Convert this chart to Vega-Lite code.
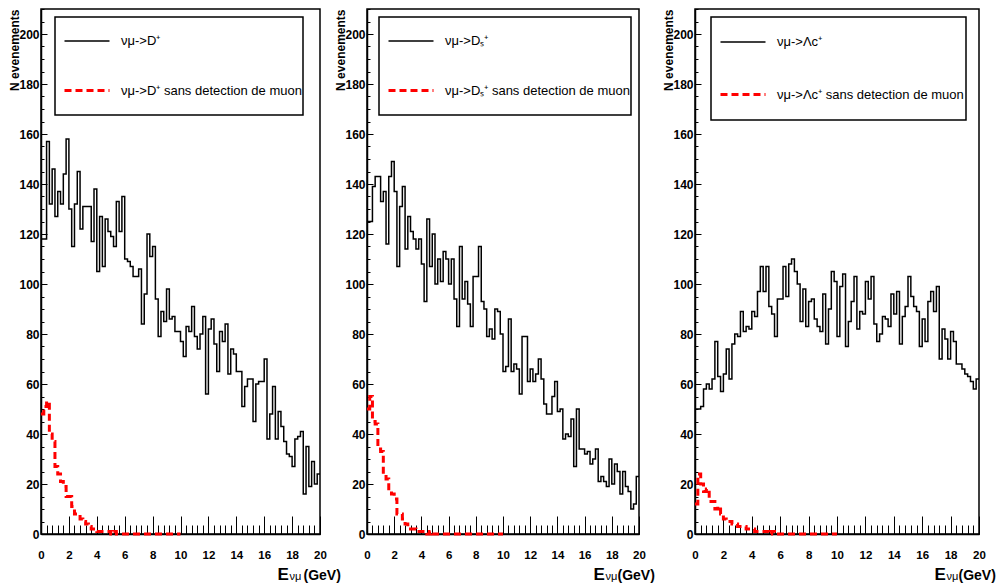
{
"$schema": "https://vega.github.io/schema/vega-lite/v6.json",
"background": "white",
"padding": {"left": 8, "top": 7, "right": 0, "bottom": 2},
"config": {
  "font": "Liberation Sans",
  "view": {"stroke": "#000000", "strokeWidth": 1.5},
  "axis": {"grid": false, "labelColor": "#000000", "titleColor": "#000000", "tickColor": "#000000", "domainColor": "#000000", "labelFont": "Liberation Sans", "titleFont": "Liberation Sans"},
  "legend": {"labelFont": "Liberation Sans", "strokeWidth": 1.5}
},
"datasets": {
"p1": [
{"series":"all","E":0,"N":118},{"series":"all","E":0.2,"N":118},{"series":"all","E":0.4,"N":157},{"series":"all","E":0.6,"N":132},{"series":"all","E":0.8,"N":146},{"series":"all","E":1,"N":127},{"series":"all","E":1.2,"N":137},{"series":"all","E":1.4,"N":132},{"series":"all","E":1.6,"N":144},{"series":"all","E":1.8,"N":158},
{"series":"all","E":2,"N":130},{"series":"all","E":2.2,"N":115},{"series":"all","E":2.4,"N":132},{"series":"all","E":2.6,"N":145},{"series":"all","E":2.8,"N":122},{"series":"all","E":3,"N":131},{"series":"all","E":3.2,"N":131},{"series":"all","E":3.4,"N":131},{"series":"all","E":3.6,"N":117},{"series":"all","E":3.8,"N":138},
{"series":"all","E":4,"N":105},{"series":"all","E":4.2,"N":127},{"series":"all","E":4.4,"N":107},{"series":"all","E":4.6,"N":126},{"series":"all","E":4.8,"N":121},{"series":"all","E":5,"N":119},{"series":"all","E":5.2,"N":115},{"series":"all","E":5.4,"N":133},{"series":"all","E":5.6,"N":121},{"series":"all","E":5.8,"N":135},
{"series":"all","E":6,"N":110},{"series":"all","E":6.2,"N":109},{"series":"all","E":6.4,"N":107},{"series":"all","E":6.6,"N":103},{"series":"all","E":6.8,"N":103},{"series":"all","E":7,"N":106},{"series":"all","E":7.2,"N":84},{"series":"all","E":7.4,"N":96},{"series":"all","E":7.6,"N":120},{"series":"all","E":7.8,"N":111},
{"series":"all","E":8,"N":115},{"series":"all","E":8.2,"N":94},{"series":"all","E":8.4,"N":79},{"series":"all","E":8.6,"N":89},{"series":"all","E":8.8,"N":85},{"series":"all","E":9,"N":98},{"series":"all","E":9.2,"N":86},{"series":"all","E":9.4,"N":87},{"series":"all","E":9.6,"N":81},{"series":"all","E":9.8,"N":81},
{"series":"all","E":10,"N":77},{"series":"all","E":10.2,"N":71},{"series":"all","E":10.4,"N":83},{"series":"all","E":10.6,"N":81},{"series":"all","E":10.8,"N":91},{"series":"all","E":11,"N":79},{"series":"all","E":11.2,"N":74},{"series":"all","E":11.4,"N":80},{"series":"all","E":11.6,"N":87},{"series":"all","E":11.8,"N":56},
{"series":"all","E":12,"N":82},{"series":"all","E":12.2,"N":86},{"series":"all","E":12.4,"N":76},{"series":"all","E":12.6,"N":65},{"series":"all","E":12.8,"N":81},{"series":"all","E":13,"N":77},{"series":"all","E":13.2,"N":84},{"series":"all","E":13.4,"N":64},{"series":"all","E":13.6,"N":74},{"series":"all","E":13.8,"N":72},
{"series":"all","E":14,"N":65},{"series":"all","E":14.2,"N":65},{"series":"all","E":14.4,"N":51},{"series":"all","E":14.6,"N":59},{"series":"all","E":14.8,"N":62},{"series":"all","E":15,"N":62},{"series":"all","E":15.2,"N":45},{"series":"all","E":15.4,"N":60},{"series":"all","E":15.6,"N":61},{"series":"all","E":15.8,"N":61},
{"series":"all","E":16,"N":70},{"series":"all","E":16.2,"N":38},{"series":"all","E":16.4,"N":48},{"series":"all","E":16.6,"N":59},{"series":"all","E":16.8,"N":38},{"series":"all","E":17,"N":49},{"series":"all","E":17.2,"N":43},{"series":"all","E":17.4,"N":37},{"series":"all","E":17.6,"N":32},{"series":"all","E":17.8,"N":31},
{"series":"all","E":18,"N":27},{"series":"all","E":18.2,"N":38},{"series":"all","E":18.4,"N":39},{"series":"all","E":18.6,"N":41},{"series":"all","E":18.8,"N":16},{"series":"all","E":19,"N":35},{"series":"all","E":19.2,"N":19},{"series":"all","E":19.4,"N":29},{"series":"all","E":19.6,"N":20},{"series":"all","E":19.8,"N":24},{"series":"all","E":20,"N":24},
{"series":"nomu","E":0,"N":48},{"series":"nomu","E":0.2,"N":51},{"series":"nomu","E":0.4,"N":53},{"series":"nomu","E":0.6,"N":40},{"series":"nomu","E":0.8,"N":37},{"series":"nomu","E":1,"N":27},{"series":"nomu","E":1.2,"N":24},{"series":"nomu","E":1.4,"N":21},{"series":"nomu","E":1.6,"N":19},{"series":"nomu","E":1.8,"N":15},
{"series":"nomu","E":2,"N":15},{"series":"nomu","E":2.2,"N":11},{"series":"nomu","E":2.4,"N":8},{"series":"nomu","E":2.6,"N":8},{"series":"nomu","E":2.8,"N":6},{"series":"nomu","E":3,"N":5},{"series":"nomu","E":3.2,"N":4},{"series":"nomu","E":3.4,"N":3},{"series":"nomu","E":3.6,"N":2},{"series":"nomu","E":3.8,"N":2},
{"series":"nomu","E":4,"N":1},{"series":"nomu","E":4.2,"N":1},{"series":"nomu","E":4.4,"N":1},{"series":"nomu","E":4.6,"N":1},{"series":"nomu","E":4.8,"N":1},{"series":"nomu","E":5,"N":0},{"series":"nomu","E":5.2,"N":1},{"series":"nomu","E":5.4,"N":0},{"series":"nomu","E":5.6,"N":0},{"series":"nomu","E":5.8,"N":0},
{"series":"nomu","E":6,"N":0},{"series":"nomu","E":6.2,"N":0},{"series":"nomu","E":6.4,"N":0},{"series":"nomu","E":6.6,"N":0},{"series":"nomu","E":6.8,"N":0},{"series":"nomu","E":7,"N":0},{"series":"nomu","E":7.2,"N":0},{"series":"nomu","E":7.4,"N":0},{"series":"nomu","E":7.6,"N":0},{"series":"nomu","E":7.8,"N":0},
{"series":"nomu","E":8,"N":0},{"series":"nomu","E":8.2,"N":0},{"series":"nomu","E":8.4,"N":0},{"series":"nomu","E":8.6,"N":0},{"series":"nomu","E":8.8,"N":0},{"series":"nomu","E":9,"N":0},{"series":"nomu","E":9.2,"N":0},{"series":"nomu","E":9.4,"N":0},{"series":"nomu","E":9.6,"N":0},{"series":"nomu","E":9.8,"N":0},{"series":"nomu","E":10,"N":0}
],
"p2": [
{"series":"all","E":0,"N":125},{"series":"all","E":0.2,"N":125},{"series":"all","E":0.4,"N":139},{"series":"all","E":0.6,"N":143},{"series":"all","E":0.8,"N":143},{"series":"all","E":1,"N":133},{"series":"all","E":1.2,"N":137},{"series":"all","E":1.4,"N":116},{"series":"all","E":1.6,"N":143},{"series":"all","E":1.8,"N":149},
{"series":"all","E":2,"N":137},{"series":"all","E":2.2,"N":107},{"series":"all","E":2.4,"N":131},{"series":"all","E":2.6,"N":139},{"series":"all","E":2.8,"N":114},{"series":"all","E":3,"N":127},{"series":"all","E":3.2,"N":121},{"series":"all","E":3.4,"N":118},{"series":"all","E":3.6,"N":114},{"series":"all","E":3.8,"N":118},
{"series":"all","E":4,"N":108},{"series":"all","E":4.2,"N":93},{"series":"all","E":4.4,"N":126},{"series":"all","E":4.6,"N":107},{"series":"all","E":4.8,"N":120},{"series":"all","E":5,"N":100},{"series":"all","E":5.2,"N":110},{"series":"all","E":5.4,"N":101},{"series":"all","E":5.6,"N":113},{"series":"all","E":5.8,"N":110},
{"series":"all","E":6,"N":100},{"series":"all","E":6.2,"N":110},{"series":"all","E":6.4,"N":94},{"series":"all","E":6.6,"N":83},{"series":"all","E":6.8,"N":115},{"series":"all","E":7,"N":94},{"series":"all","E":7.2,"N":101},{"series":"all","E":7.4,"N":92},{"series":"all","E":7.6,"N":83},{"series":"all","E":7.8,"N":103},
{"series":"all","E":8,"N":103},{"series":"all","E":8.2,"N":115},{"series":"all","E":8.4,"N":93},{"series":"all","E":8.6,"N":90},{"series":"all","E":8.8,"N":79},{"series":"all","E":9,"N":82},{"series":"all","E":9.2,"N":78},{"series":"all","E":9.4,"N":90},{"series":"all","E":9.6,"N":89},{"series":"all","E":9.8,"N":80},
{"series":"all","E":10,"N":65},{"series":"all","E":10.2,"N":67},{"series":"all","E":10.4,"N":86},{"series":"all","E":10.6,"N":65},{"series":"all","E":10.8,"N":68},{"series":"all","E":11,"N":66},{"series":"all","E":11.2,"N":56},{"series":"all","E":11.4,"N":79},{"series":"all","E":11.6,"N":79},{"series":"all","E":11.8,"N":61},
{"series":"all","E":12,"N":66},{"series":"all","E":12.2,"N":61},{"series":"all","E":12.4,"N":64},{"series":"all","E":12.6,"N":70},{"series":"all","E":12.8,"N":62},{"series":"all","E":13,"N":52},{"series":"all","E":13.2,"N":48},{"series":"all","E":13.4,"N":48},{"series":"all","E":13.6,"N":55},{"series":"all","E":13.8,"N":61},
{"series":"all","E":14,"N":49},{"series":"all","E":14.2,"N":50},{"series":"all","E":14.4,"N":38},{"series":"all","E":14.6,"N":40},{"series":"all","E":14.8,"N":39},{"series":"all","E":15,"N":46},{"series":"all","E":15.2,"N":27},{"series":"all","E":15.4,"N":50},{"series":"all","E":15.6,"N":34},{"series":"all","E":15.8,"N":34},
{"series":"all","E":16,"N":32},{"series":"all","E":16.2,"N":33},{"series":"all","E":16.4,"N":28},{"series":"all","E":16.6,"N":30},{"series":"all","E":16.8,"N":34},{"series":"all","E":17,"N":21},{"series":"all","E":17.2,"N":23},{"series":"all","E":17.4,"N":21},{"series":"all","E":17.6,"N":19},{"series":"all","E":17.8,"N":30},
{"series":"all","E":18,"N":20},{"series":"all","E":18.2,"N":28},{"series":"all","E":18.4,"N":25},{"series":"all","E":18.6,"N":16},{"series":"all","E":18.8,"N":25},{"series":"all","E":19,"N":19},{"series":"all","E":19.2,"N":17},{"series":"all","E":19.4,"N":10},{"series":"all","E":19.6,"N":12},{"series":"all","E":19.8,"N":23},{"series":"all","E":20,"N":23},
{"series":"nomu","E":0,"N":50},{"series":"nomu","E":0.2,"N":55},{"series":"nomu","E":0.4,"N":45},{"series":"nomu","E":0.6,"N":44},{"series":"nomu","E":0.8,"N":34},{"series":"nomu","E":1,"N":33},{"series":"nomu","E":1.2,"N":24},{"series":"nomu","E":1.4,"N":22},{"series":"nomu","E":1.6,"N":17},{"series":"nomu","E":1.8,"N":16},
{"series":"nomu","E":2,"N":14},{"series":"nomu","E":2.2,"N":8},{"series":"nomu","E":2.4,"N":8},{"series":"nomu","E":2.6,"N":6},{"series":"nomu","E":2.8,"N":4},{"series":"nomu","E":3,"N":3},{"series":"nomu","E":3.2,"N":2},{"series":"nomu","E":3.4,"N":2},{"series":"nomu","E":3.6,"N":1},{"series":"nomu","E":3.8,"N":1},
{"series":"nomu","E":4,"N":1},{"series":"nomu","E":4.2,"N":1},{"series":"nomu","E":4.4,"N":0},{"series":"nomu","E":4.6,"N":1},{"series":"nomu","E":4.8,"N":0},{"series":"nomu","E":5,"N":0},{"series":"nomu","E":5.2,"N":0},{"series":"nomu","E":5.4,"N":0},{"series":"nomu","E":5.6,"N":0},{"series":"nomu","E":5.8,"N":0},
{"series":"nomu","E":6,"N":0},{"series":"nomu","E":6.2,"N":0},{"series":"nomu","E":6.4,"N":0},{"series":"nomu","E":6.6,"N":0},{"series":"nomu","E":6.8,"N":0},{"series":"nomu","E":7,"N":0},{"series":"nomu","E":7.2,"N":0},{"series":"nomu","E":7.4,"N":0},{"series":"nomu","E":7.6,"N":0},{"series":"nomu","E":7.8,"N":0},
{"series":"nomu","E":8,"N":0},{"series":"nomu","E":8.2,"N":0},{"series":"nomu","E":8.4,"N":0},{"series":"nomu","E":8.6,"N":0},{"series":"nomu","E":8.8,"N":0},{"series":"nomu","E":9,"N":0},{"series":"nomu","E":9.2,"N":0},{"series":"nomu","E":9.4,"N":0},{"series":"nomu","E":9.6,"N":0},{"series":"nomu","E":9.8,"N":0},{"series":"nomu","E":10,"N":0}
],
"p3": [
{"series":"all","E":0,"N":50},{"series":"all","E":0.2,"N":50},{"series":"all","E":0.4,"N":51},{"series":"all","E":0.6,"N":58},{"series":"all","E":0.8,"N":60},{"series":"all","E":1,"N":58},{"series":"all","E":1.2,"N":62},{"series":"all","E":1.4,"N":77},{"series":"all","E":1.6,"N":63},{"series":"all","E":1.8,"N":57},
{"series":"all","E":2,"N":64},{"series":"all","E":2.2,"N":74},{"series":"all","E":2.4,"N":62},{"series":"all","E":2.6,"N":76},{"series":"all","E":2.8,"N":80},{"series":"all","E":3,"N":79},{"series":"all","E":3.2,"N":89},{"series":"all","E":3.4,"N":81},{"series":"all","E":3.6,"N":83},{"series":"all","E":3.8,"N":82},
{"series":"all","E":4,"N":89},{"series":"all","E":4.2,"N":87},{"series":"all","E":4.4,"N":97},{"series":"all","E":4.6,"N":107},{"series":"all","E":4.8,"N":97},{"series":"all","E":5,"N":107},{"series":"all","E":5.2,"N":91},{"series":"all","E":5.4,"N":88},{"series":"all","E":5.6,"N":79},{"series":"all","E":5.8,"N":94},
{"series":"all","E":6,"N":94},{"series":"all","E":6.2,"N":107},{"series":"all","E":6.4,"N":95},{"series":"all","E":6.6,"N":108},{"series":"all","E":6.8,"N":110},{"series":"all","E":7,"N":105},{"series":"all","E":7.2,"N":100},{"series":"all","E":7.4,"N":85},{"series":"all","E":7.6,"N":98},{"series":"all","E":7.8,"N":83},
{"series":"all","E":8,"N":93},{"series":"all","E":8.2,"N":94},{"series":"all","E":8.4,"N":86},{"series":"all","E":8.6,"N":83},{"series":"all","E":8.8,"N":81},{"series":"all","E":9,"N":96},{"series":"all","E":9.2,"N":76},{"series":"all","E":9.4,"N":90},{"series":"all","E":9.6,"N":105},{"series":"all","E":9.8,"N":101},
{"series":"all","E":10,"N":79},{"series":"all","E":10.2,"N":99},{"series":"all","E":10.4,"N":104},{"series":"all","E":10.6,"N":75},{"series":"all","E":10.8,"N":85},{"series":"all","E":11,"N":93},{"series":"all","E":11.2,"N":103},{"series":"all","E":11.4,"N":82},{"series":"all","E":11.6,"N":89},{"series":"all","E":11.8,"N":88},
{"series":"all","E":12,"N":101},{"series":"all","E":12.2,"N":94},{"series":"all","E":12.4,"N":103},{"series":"all","E":12.6,"N":84},{"series":"all","E":12.8,"N":77},{"series":"all","E":13,"N":80},{"series":"all","E":13.2,"N":87},{"series":"all","E":13.4,"N":86},{"series":"all","E":13.6,"N":83},{"series":"all","E":13.8,"N":96},
{"series":"all","E":14,"N":88},{"series":"all","E":14.2,"N":97},{"series":"all","E":14.4,"N":76},{"series":"all","E":14.6,"N":87},{"series":"all","E":14.8,"N":91},{"series":"all","E":15,"N":103},{"series":"all","E":15.2,"N":95},{"series":"all","E":15.4,"N":91},{"series":"all","E":15.6,"N":89},{"series":"all","E":15.8,"N":75},
{"series":"all","E":16,"N":86},{"series":"all","E":16.2,"N":77},{"series":"all","E":16.4,"N":93},{"series":"all","E":16.6,"N":97},{"series":"all","E":16.8,"N":89},{"series":"all","E":17,"N":99},{"series":"all","E":17.2,"N":70},{"series":"all","E":17.4,"N":82},{"series":"all","E":17.6,"N":78},{"series":"all","E":17.8,"N":70},
{"series":"all","E":18,"N":81},{"series":"all","E":18.2,"N":77},{"series":"all","E":18.4,"N":68},{"series":"all","E":18.6,"N":68},{"series":"all","E":18.8,"N":66},{"series":"all","E":19,"N":64},{"series":"all","E":19.2,"N":63},{"series":"all","E":19.4,"N":61},{"series":"all","E":19.6,"N":58},{"series":"all","E":19.8,"N":62},{"series":"all","E":20,"N":62},
{"series":"nomu","E":0,"N":12},{"series":"nomu","E":0.2,"N":24},{"series":"nomu","E":0.4,"N":20},{"series":"nomu","E":0.6,"N":17},{"series":"nomu","E":0.8,"N":18},{"series":"nomu","E":1,"N":13},{"series":"nomu","E":1.2,"N":13},{"series":"nomu","E":1.4,"N":10},{"series":"nomu","E":1.6,"N":11},{"series":"nomu","E":1.8,"N":8},
{"series":"nomu","E":2,"N":6},{"series":"nomu","E":2.2,"N":5},{"series":"nomu","E":2.4,"N":5},{"series":"nomu","E":2.6,"N":4},{"series":"nomu","E":2.8,"N":4},{"series":"nomu","E":3,"N":3},{"series":"nomu","E":3.2,"N":3},{"series":"nomu","E":3.4,"N":3},{"series":"nomu","E":3.6,"N":2},{"series":"nomu","E":3.8,"N":2},
{"series":"nomu","E":4,"N":2},{"series":"nomu","E":4.2,"N":1},{"series":"nomu","E":4.4,"N":1},{"series":"nomu","E":4.6,"N":1},{"series":"nomu","E":4.8,"N":1},{"series":"nomu","E":5,"N":1},{"series":"nomu","E":5.2,"N":0},{"series":"nomu","E":5.4,"N":1},{"series":"nomu","E":5.6,"N":0},{"series":"nomu","E":5.8,"N":0},
{"series":"nomu","E":6,"N":0},{"series":"nomu","E":6.2,"N":0},{"series":"nomu","E":6.4,"N":0},{"series":"nomu","E":6.6,"N":0},{"series":"nomu","E":6.8,"N":0},{"series":"nomu","E":7,"N":0},{"series":"nomu","E":7.2,"N":0},{"series":"nomu","E":7.4,"N":0},{"series":"nomu","E":7.6,"N":0},{"series":"nomu","E":7.8,"N":0},
{"series":"nomu","E":8,"N":0},{"series":"nomu","E":8.2,"N":0},{"series":"nomu","E":8.4,"N":0},{"series":"nomu","E":8.6,"N":0},{"series":"nomu","E":8.8,"N":0},{"series":"nomu","E":9,"N":0},{"series":"nomu","E":9.2,"N":0},{"series":"nomu","E":9.4,"N":0},{"series":"nomu","E":9.6,"N":0},{"series":"nomu","E":9.8,"N":0},{"series":"nomu","E":10,"N":0}
]
},
"spacing": 47,
"bounds": "flush",
"resolve": {"scale": {"color": "independent", "strokeDash": "independent", "strokeWidth": "independent"}},
"hconcat": [
{
 "width": 279, "height": 525,
 "data": {"name": "p1"},
 "layer": [
  {
   "transform": [{"filter": "datum.series == 'all'"}],
   "mark": {"type": "line", "interpolate": "step-after"},
   "encoding": {
    "x": {"field": "E", "type": "quantitative", "scale": {"domain": [0, 20], "nice": false, "zero": false},
      "axis": {"orient": "bottom", "values": [0,2,4,6,8,10,12,14,16,18,20], "format": "d", "tickSize": -18, "tickWidth": 1, "labelPadding": 33, "labelFontSize": 11.5, "labelFontWeight": "bold", "labelFlush": false, "labelOverlap": false, "domainWidth": 1.5, "title": "E", "titleFontSize": 17, "titleFontWeight": "bold", "titleX": 236, "titleY": 45, "titleAlign": "left", "titleBaseline": "alphabetic", "titleAngle": 0}},
    "y": {"field": "N", "type": "quantitative", "scale": {"domain": [0, 210], "nice": false},
      "axis": {"orient": "left", "values": [0,20,40,60,80,100,120,140,160,180,200], "tickSize": -6, "tickWidth": 1, "labelPadding": 8, "labelFontSize": 12, "labelFontWeight": "bold", "labelOverlap": false, "labelFlush": false, "domainWidth": 1.5, "title": "N evenements", "titleFontSize": 12, "titleFontWeight": "bold", "titleAnchor": "end", "titlePadding": -3}},
    "color": {"field": "series", "type": "nominal", "scale": {"domain": ["all","nomu"], "range": ["#000000","#ff0000"]},
      "legend": {"title": null, "orient": "none", "legendX": 14, "legendY": 8, "direction": "vertical", "symbolType": "M-1,-0.8M-1,0.8M-1,0H1", "symbolSize": 2025, "symbolOffset": 7.5, "labelExpr": "datum.value == 'all' ? 'νμ->D⁺' : 'νμ->D⁺ sans detection de muon\u00a0\u00a0'", "labelFontSize": 13, "labelColor": "#000000", "labelLimit": 400, "labelOffset": 10, "rowPadding": 4, "padding": 0.5, "strokeColor": "#000000", "fillColor": "#ffffff"}},
    "strokeDash": {"field": "series", "type": "nominal", "scale": {"domain": ["all","nomu"], "range": [[1,0],[7,4]]},
      "legend": {"title": null, "orient": "none", "legendX": 14, "legendY": 8, "direction": "vertical", "symbolType": "M-1,-0.8M-1,0.8M-1,0H1", "symbolSize": 2025, "symbolOffset": 7.5, "labelExpr": "datum.value == 'all' ? 'νμ->D⁺' : 'νμ->D⁺ sans detection de muon\u00a0\u00a0'", "labelFontSize": 13, "labelColor": "#000000", "labelLimit": 400, "labelOffset": 10, "rowPadding": 4, "padding": 0.5, "strokeColor": "#000000", "fillColor": "#ffffff"}},
    "strokeWidth": {"field": "series", "type": "nominal", "scale": {"domain": ["all","nomu"], "range": [1.5,3]},
      "legend": {"title": null, "orient": "none", "legendX": 14, "legendY": 8, "direction": "vertical", "symbolType": "M-1,-0.8M-1,0.8M-1,0H1", "symbolSize": 2025, "symbolOffset": 7.5, "labelExpr": "datum.value == 'all' ? 'νμ->D⁺' : 'νμ->D⁺ sans detection de muon\u00a0\u00a0'", "labelFontSize": 13, "labelColor": "#000000", "labelLimit": 400, "labelOffset": 10, "rowPadding": 4, "padding": 0.5, "strokeColor": "#000000", "fillColor": "#ffffff"}}
   }
  },
  {
   "transform": [{"filter": "datum.series == 'nomu'"}],
   "mark": {"type": "line", "interpolate": "step-after"},
   "encoding": {
    "x": {"field": "E", "type": "quantitative", "scale": {"domain": [0, 20], "nice": false, "zero": false},
      "axis": {"orient": "bottom", "values": [0,0.4,0.8,1.2,1.6,2,2.4,2.8,3.2,3.6,4,4.4,4.8,5.2,5.6,6,6.4,6.8,7.2,7.6,8,8.4,8.8,9.2,9.6,10,10.4,10.8,11.2,11.6,12,12.4,12.8,13.2,13.6,14,14.4,14.8,15.2,15.6,16,16.4,16.8,17.2,17.6,18,18.4,18.8,19.2,19.6,20], "tickSize": -9, "tickWidth": 1, "labels": false, "domain": false, "title": "νμ", "titleFontSize": 11, "titleFontWeight": "normal", "titleX": 248, "titleY": 45, "titleAlign": "left", "titleBaseline": "alphabetic", "titleAngle": 0}},
    "y": {"field": "N", "type": "quantitative", "scale": {"domain": [0, 210], "nice": false},
      "axis": {"orient": "left", "values": [0,5,10,15,20,25,30,35,40,45,50,55,60,65,70,75,80,85,90,95,100,105,110,115,120,125,130,135,140,145,150,155,160,165,170,175,180,185,190,195,200,205,210], "tickSize": -3, "tickWidth": 1, "labels": false, "domain": false, "title": "(GeV)", "titleFontSize": 14, "titleFontWeight": "bold", "titleAngle": 0, "titleX": 262, "titleY": 570, "titleAlign": "left", "titleBaseline": "alphabetic"}},
    "color": {"field": "series", "type": "nominal", "scale": {"domain": ["all","nomu"], "range": ["#000000","#ff0000"]}},
    "strokeDash": {"field": "series", "type": "nominal", "scale": {"domain": ["all","nomu"], "range": [[1,0],[7,4]]}},
    "strokeWidth": {"field": "series", "type": "nominal", "scale": {"domain": ["all","nomu"], "range": [1.5,3]}}
   }
  }
 ],
 "resolve": {"scale": {"x": "independent", "y": "independent"}, "axis": {"x": "independent", "y": "independent"}}
},
{
 "spacing": 56,
 "bounds": "flush",
 "resolve": {"scale": {"color": "independent", "strokeDash": "independent", "strokeWidth": "independent"}},
 "hconcat": [
 {
 "width": 272, "height": 525,
 "data": {"name": "p2"},
 "layer": [
  {
   "transform": [{"filter": "datum.series == 'all'"}],
   "mark": {"type": "line", "interpolate": "step-after"},
   "encoding": {
    "x": {"field": "E", "type": "quantitative", "scale": {"domain": [0, 20], "nice": false, "zero": false},
      "axis": {"orient": "bottom", "values": [0,2,4,6,8,10,12,14,16,18,20], "format": "d", "tickSize": -18, "tickWidth": 1, "labelPadding": 33, "labelFontSize": 11.5, "labelFontWeight": "bold", "labelFlush": false, "labelOverlap": false, "domainWidth": 1.5, "title": "E", "titleFontSize": 17, "titleFontWeight": "bold", "titleX": 226, "titleY": 45, "titleAlign": "left", "titleBaseline": "alphabetic", "titleAngle": 0}},
    "y": {"field": "N", "type": "quantitative", "scale": {"domain": [0, 210], "nice": false},
      "axis": {"orient": "left", "values": [0,20,40,60,80,100,120,140,160,180,200], "tickSize": -6, "tickWidth": 1, "labelPadding": 8, "labelFontSize": 12, "labelFontWeight": "bold", "labelOverlap": false, "labelFlush": false, "domainWidth": 1.5, "title": "N evenements", "titleFontSize": 12, "titleFontWeight": "bold", "titleAnchor": "end", "titlePadding": -3}},
    "color": {"field": "series", "type": "nominal", "scale": {"domain": ["all","nomu"], "range": ["#000000","#ff0000"]},
      "legend": {"title": null, "orient": "none", "legendX": 12, "legendY": 8, "direction": "vertical", "symbolType": "M-1,-0.8M-1,0.8M-1,0H1", "symbolSize": 2025, "symbolOffset": 7.5, "labelExpr": "datum.value == 'all' ? 'νμ->Dₛ⁺' : 'νμ->Dₛ⁺ sans detection de muon'", "labelFontSize": 13, "labelColor": "#000000", "labelLimit": 400, "labelOffset": 10, "rowPadding": 4, "padding": 0.5, "strokeColor": "#000000", "fillColor": "#ffffff"}},
    "strokeDash": {"field": "series", "type": "nominal", "scale": {"domain": ["all","nomu"], "range": [[1,0],[7,4]]},
      "legend": {"title": null, "orient": "none", "legendX": 12, "legendY": 8, "direction": "vertical", "symbolType": "M-1,-0.8M-1,0.8M-1,0H1", "symbolSize": 2025, "symbolOffset": 7.5, "labelExpr": "datum.value == 'all' ? 'νμ->Dₛ⁺' : 'νμ->Dₛ⁺ sans detection de muon'", "labelFontSize": 13, "labelColor": "#000000", "labelLimit": 400, "labelOffset": 10, "rowPadding": 4, "padding": 0.5, "strokeColor": "#000000", "fillColor": "#ffffff"}},
    "strokeWidth": {"field": "series", "type": "nominal", "scale": {"domain": ["all","nomu"], "range": [1.5,3]},
      "legend": {"title": null, "orient": "none", "legendX": 12, "legendY": 8, "direction": "vertical", "symbolType": "M-1,-0.8M-1,0.8M-1,0H1", "symbolSize": 2025, "symbolOffset": 7.5, "labelExpr": "datum.value == 'all' ? 'νμ->Dₛ⁺' : 'νμ->Dₛ⁺ sans detection de muon'", "labelFontSize": 13, "labelColor": "#000000", "labelLimit": 400, "labelOffset": 10, "rowPadding": 4, "padding": 0.5, "strokeColor": "#000000", "fillColor": "#ffffff"}}
   }
  },
  {
   "transform": [{"filter": "datum.series == 'nomu'"}],
   "mark": {"type": "line", "interpolate": "step-after"},
   "encoding": {
    "x": {"field": "E", "type": "quantitative", "scale": {"domain": [0, 20], "nice": false, "zero": false},
      "axis": {"orient": "bottom", "values": [0,0.4,0.8,1.2,1.6,2,2.4,2.8,3.2,3.6,4,4.4,4.8,5.2,5.6,6,6.4,6.8,7.2,7.6,8,8.4,8.8,9.2,9.6,10,10.4,10.8,11.2,11.6,12,12.4,12.8,13.2,13.6,14,14.4,14.8,15.2,15.6,16,16.4,16.8,17.2,17.6,18,18.4,18.8,19.2,19.6,20], "tickSize": -9, "tickWidth": 1, "labels": false, "domain": false, "title": "νμ", "titleFontSize": 11, "titleFontWeight": "normal", "titleX": 238, "titleY": 45, "titleAlign": "left", "titleBaseline": "alphabetic", "titleAngle": 0}},
    "y": {"field": "N", "type": "quantitative", "scale": {"domain": [0, 210], "nice": false},
      "axis": {"orient": "left", "values": [0,5,10,15,20,25,30,35,40,45,50,55,60,65,70,75,80,85,90,95,100,105,110,115,120,125,130,135,140,145,150,155,160,165,170,175,180,185,190,195,200,205,210], "tickSize": -3, "tickWidth": 1, "labels": false, "domain": false, "title": "(GeV)", "titleFontSize": 14, "titleFontWeight": "bold", "titleAngle": 0, "titleX": 250, "titleY": 570, "titleAlign": "left", "titleBaseline": "alphabetic"}},
    "color": {"field": "series", "type": "nominal", "scale": {"domain": ["all","nomu"], "range": ["#000000","#ff0000"]}},
    "strokeDash": {"field": "series", "type": "nominal", "scale": {"domain": ["all","nomu"], "range": [[1,0],[7,4]]}},
    "strokeWidth": {"field": "series", "type": "nominal", "scale": {"domain": ["all","nomu"], "range": [1.5,3]}}
   }
  }
 ],
 "resolve": {"scale": {"x": "independent", "y": "independent"}, "axis": {"x": "independent", "y": "independent"}}
 },
 {
 "width": 284, "height": 525,
 "data": {"name": "p3"},
 "layer": [
  {
   "transform": [{"filter": "datum.series == 'all'"}],
   "mark": {"type": "line", "interpolate": "step-after"},
   "encoding": {
    "x": {"field": "E", "type": "quantitative", "scale": {"domain": [0, 20], "nice": false, "zero": false},
      "axis": {"orient": "bottom", "values": [0,2,4,6,8,10,12,14,16,18,20], "format": "d", "tickSize": -18, "tickWidth": 1, "labelPadding": 33, "labelFontSize": 11.5, "labelFontWeight": "bold", "labelFlush": false, "labelOverlap": false, "domainWidth": 1.5, "title": "E", "titleFontSize": 17, "titleFontWeight": "bold", "titleX": 239, "titleY": 45, "titleAlign": "left", "titleBaseline": "alphabetic", "titleAngle": 0}},
    "y": {"field": "N", "type": "quantitative", "scale": {"domain": [0, 210], "nice": false},
      "axis": {"orient": "left", "values": [0,20,40,60,80,100,120,140,160,180,200], "tickSize": -6, "tickWidth": 1, "labelPadding": 8, "labelFontSize": 12, "labelFontWeight": "bold", "labelOverlap": false, "labelFlush": false, "domainWidth": 1.5, "title": "N evenements", "titleFontSize": 12, "titleFontWeight": "bold", "titleAnchor": "end", "titlePadding": -3}},
    "color": {"field": "series", "type": "nominal", "scale": {"domain": ["all","nomu"], "range": ["#000000","#ff0000"]},
      "legend": {"title": null, "orient": "none", "legendX": 16, "legendY": 8, "direction": "vertical", "symbolType": "M-1,-0.8M-1,0.8M-1,0H1", "symbolSize": 2025, "symbolOffset": 6.5, "labelExpr": "datum.value == 'all' ? 'νμ->Λc⁺' : 'νμ->Λc⁺ sans detection de muon'", "labelFontSize": 13, "labelColor": "#000000", "labelLimit": 400, "labelOffset": 10, "rowPadding": 7, "padding": 1.5, "strokeColor": "#000000", "fillColor": "#ffffff"}},
    "strokeDash": {"field": "series", "type": "nominal", "scale": {"domain": ["all","nomu"], "range": [[1,0],[7,4]]},
      "legend": {"title": null, "orient": "none", "legendX": 16, "legendY": 8, "direction": "vertical", "symbolType": "M-1,-0.8M-1,0.8M-1,0H1", "symbolSize": 2025, "symbolOffset": 6.5, "labelExpr": "datum.value == 'all' ? 'νμ->Λc⁺' : 'νμ->Λc⁺ sans detection de muon'", "labelFontSize": 13, "labelColor": "#000000", "labelLimit": 400, "labelOffset": 10, "rowPadding": 7, "padding": 1.5, "strokeColor": "#000000", "fillColor": "#ffffff"}},
    "strokeWidth": {"field": "series", "type": "nominal", "scale": {"domain": ["all","nomu"], "range": [1.5,3]},
      "legend": {"title": null, "orient": "none", "legendX": 16, "legendY": 8, "direction": "vertical", "symbolType": "M-1,-0.8M-1,0.8M-1,0H1", "symbolSize": 2025, "symbolOffset": 6.5, "labelExpr": "datum.value == 'all' ? 'νμ->Λc⁺' : 'νμ->Λc⁺ sans detection de muon'", "labelFontSize": 13, "labelColor": "#000000", "labelLimit": 400, "labelOffset": 10, "rowPadding": 7, "padding": 1.5, "strokeColor": "#000000", "fillColor": "#ffffff"}}
   }
  },
  {
   "transform": [{"filter": "datum.series == 'nomu'"}],
   "mark": {"type": "line", "interpolate": "step-after"},
   "encoding": {
    "x": {"field": "E", "type": "quantitative", "scale": {"domain": [0, 20], "nice": false, "zero": false},
      "axis": {"orient": "bottom", "values": [0,0.4,0.8,1.2,1.6,2,2.4,2.8,3.2,3.6,4,4.4,4.8,5.2,5.6,6,6.4,6.8,7.2,7.6,8,8.4,8.8,9.2,9.6,10,10.4,10.8,11.2,11.6,12,12.4,12.8,13.2,13.6,14,14.4,14.8,15.2,15.6,16,16.4,16.8,17.2,17.6,18,18.4,18.8,19.2,19.6,20], "tickSize": -9, "tickWidth": 1, "labels": false, "domain": false, "title": "νμ", "titleFontSize": 11, "titleFontWeight": "normal", "titleX": 251, "titleY": 45, "titleAlign": "left", "titleBaseline": "alphabetic", "titleAngle": 0}},
    "y": {"field": "N", "type": "quantitative", "scale": {"domain": [0, 210], "nice": false},
      "axis": {"orient": "left", "values": [0,5,10,15,20,25,30,35,40,45,50,55,60,65,70,75,80,85,90,95,100,105,110,115,120,125,130,135,140,145,150,155,160,165,170,175,180,185,190,195,200,205,210], "tickSize": -3, "tickWidth": 1, "labels": false, "domain": false, "title": "(GeV)", "titleFontSize": 14, "titleFontWeight": "bold", "titleAngle": 0, "titleX": 263, "titleY": 570, "titleAlign": "left", "titleBaseline": "alphabetic"}},
    "color": {"field": "series", "type": "nominal", "scale": {"domain": ["all","nomu"], "range": ["#000000","#ff0000"]}},
    "strokeDash": {"field": "series", "type": "nominal", "scale": {"domain": ["all","nomu"], "range": [[1,0],[7,4]]}},
    "strokeWidth": {"field": "series", "type": "nominal", "scale": {"domain": ["all","nomu"], "range": [1.5,3]}}
   }
  }
 ],
 "resolve": {"scale": {"x": "independent", "y": "independent"}, "axis": {"x": "independent", "y": "independent"}}
 }
 ]
}
]
}
